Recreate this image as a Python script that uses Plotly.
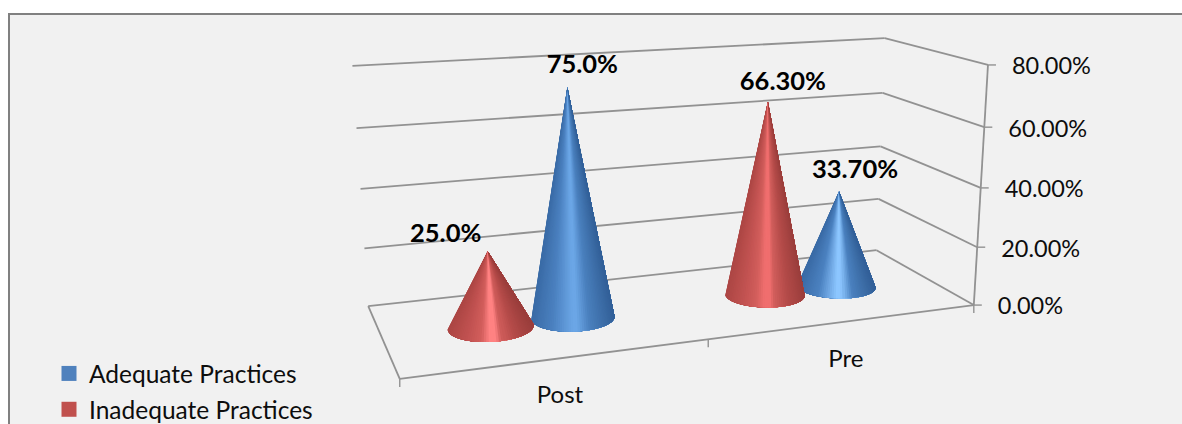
import numpy as np
import plotly.graph_objects as go

# Chart data
categories = ["Post", "Pre"]
adequate = [75.0, 33.7]
inadequate = [25.0, 66.3]
adequate_labels = ["75.0%", "33.70%"]
inadequate_labels = ["25.0%", "66.30%"]
series_names = ["Adequate Practices", "Inadequate Practices"]
tick_values = [0, 20, 40, 60, 80]
tick_labels = ["0.00%", "20.00%", "40.00%", "60.00%", "80.00%"]
axis_max = 80.0

WIDTH, HEIGHT = 1182, 424
FONT = "Lato"
TEXT = "#0d0d0d"
GRID = "#929292"

# Camera calibration of the chart box: (across, depth, height) -> screen position
front_edge = [
    ((1, 0, 0), (973, 305)), ((1, 0, .25), (978, 247)), ((1, 0, .5), (981, 188)),
    ((1, 0, .75), (984, 127)), ((1, 0, 1), (988, 65)),
]
box_anchors = [
    ((0, 0, 0), (400, 379)), ((0.5, 0, 0), (708, 340)),
    ((0, 1, 0), (368, 306)), ((1, 1, 0), (877, 250)),
    ((0, 1, .25), (364, 248)), ((0, 1, .5), (361, 189)), ((0, 1, .75), (357, 128)), ((0, 1, 1), (352, 66)),
    ((1, 1, .25), (879, 199)), ((1, 1, .5), (880, 147)), ((1, 1, .75), (883, 93)), ((1, 1, 1), (884, 38)),
] + front_edge * 3  # the value axis edge counts most


def fit_camera(anchors):
    """Direct linear transform, reweighted a few times to approach the screen-space error."""
    weights = np.ones(len(anchors))
    P = None
    for _ in range(8):
        rows = []
        for k, ((u, d, h), (x, y)) in enumerate(anchors):
            w = [u, d, h, 1]
            rows.append([weights[k] * c for c in w + [0, 0, 0, 0] + [-x * c for c in w]])
            rows.append([weights[k] * c for c in [0, 0, 0, 0] + w + [-y * c for c in w]])
        P = np.linalg.svd(np.array(rows, float))[2][-1].reshape(3, 4)
        weights = np.array([1 / abs(P[2] @ np.array([*a[0], 1.0])) for a in anchors])
        weights /= weights.mean()
    return P


CAMERA = fit_camera(box_anchors)


def project(u, d, h):
    u, d, h = np.broadcast_arrays(np.asarray(u, float), np.asarray(d, float), np.asarray(h, float))
    p = CAMERA @ np.stack([u, d, h, np.ones_like(u)])
    return p[0] / p[2], p[1] / p[2]


def hex_rgb(c):
    return np.array([int(c[i:i + 2], 16) for i in (1, 3, 5)], float)


def shade(stops, f):
    pos = [s[0] for s in stops]
    rgb = np.array([hex_rgb(s[1]) for s in stops])
    vals = [int(round(np.interp(f, pos, rgb[:, i]))) for i in range(3)]
    return "rgb({},{},{})".format(*vals)


def red_ramp(peak):
    return [(-1, "#ad4745"), (-.6, "#c05150"), (-.25, "#d25e5c"), (-.05, peak), (.1, peak),
            (.22, "#d05d5b"), (.55, "#b44b49"), (1, "#9a3e3c")]


def blue_ramp(peak):
    return [(-1, "#3a6ba6"), (-.5, "#4b81c0"), (-.02, peak), (.08, peak),
            (.38, "#4a80be"), (.8, "#3a6aa3"), (1, "#325f98")]


RU, RD = 0.0712, 0.2
STRIPS = 60


def add_cone(fig, cu, value, ramp):
    """One cone on the floor at mid depth, tip at the value, painted left to right in nested wedges."""
    tip_x, tip_y = project(cu, 0.5, value / axis_max)
    tip_x, tip_y = float(tip_x), float(tip_y)

    # Silhouette tangents: the base points seen at the widest angle from the tip
    phi = np.linspace(np.pi / 2, 5 * np.pi / 2, 721)
    bx, by = project(cu + RU * np.cos(phi), 0.5 + RD * np.sin(phi), 0)
    seen = np.arctan2(bx - tip_x, by - tip_y)
    left, right = phi[np.argmin(seen)], phi[np.argmax(seen)]
    half_width = (bx.max() - bx.min()) / 2
    middle = (bx.max() + bx.min()) / 2

    for start in np.linspace(left, right, STRIPS, endpoint=False):
        arc = np.linspace(start, right, 80)
        ax, ay = project(cu + RU * np.cos(arc), 0.5 + RD * np.sin(arc), 0)
        colour = shade(ramp, float((ax[0] - middle) / half_width))
        fig.add_trace(go.Scatter(
            x=[tip_x, *ax, tip_x], y=[tip_y, *ay, tip_y],
            mode="lines", fill="toself", fillcolor=colour,
            line=dict(color=colour, width=0),
            showlegend=False, hoverinfo="skip"))
    return tip_x, tip_y


def add_line(fig, a, b):
    x, y = project(*np.array([a, b]).T)
    fig.add_trace(go.Scatter(x=x, y=y, mode="lines", line=dict(color=GRID, width=1.8),
                             showlegend=False, hoverinfo="skip"))


fig = go.Figure()

# Panel behind the chart
fig.add_shape(type="rect", x0=9, y0=14, x1=WIDTH + 5, y1=HEIGHT + 5, layer="below",
              fillcolor="#f1f1f1", line=dict(color="#808080", width=2))

# Walls and floor of the 3-D box
for v in tick_values:
    h = v / axis_max
    add_line(fig, (0, 1, h), (1, 1, h))
    add_line(fig, (1, 1, h), (1, 0, h))
add_line(fig, (0, 1, 0), (0, 0, 0))
add_line(fig, (0, 0, 0), (1, 0, 0))
add_line(fig, (1, 0, 0), (1, 0, 1))

# Outward tick marks on the value axis and the category axis
tx, ty = project(1, 0, np.array(tick_values) / axis_max)
for x, y in zip(tx, ty):
    fig.add_trace(go.Scatter(x=[x, x + 8], y=[y, y], mode="lines", line=dict(color=GRID, width=1.4),
                             showlegend=False, hoverinfo="skip"))
for u in np.linspace(0, 1, len(categories) + 1):
    x, y = project(u, 0, 0)
    fig.add_trace(go.Scatter(x=[x, x], y=[y, y + 8], mode="lines", line=dict(color=GRID, width=1.4),
                             showlegend=False, hoverinfo="skip"))

# Cones: blue row first so the red ones overlap it
centres = [(i + 0.5) / len(categories) for i in range(len(categories))]
adequate_peaks = ["#6ba6e6", "#8cc6ff"]
inadequate_peaks = ["#ff8282", "#f06e6e"]
tips_a = [add_cone(fig, c + RU, v, blue_ramp(p)) for c, v, p in zip(centres, adequate, adequate_peaks)]
tips_i = [add_cone(fig, c - RU, v, red_ramp(p)) for c, v, p in zip(centres, inadequate, inadequate_peaks)]

# Data labels beside each tip
label_x, label_y, label_text = [], [], []
offsets_a = [(15, -21), (16, -20)]
offsets_i = [(-42, -16), (15, -18)]
for tips, offs, texts in ((tips_a, offsets_a, adequate_labels), (tips_i, offsets_i, inadequate_labels)):
    for (x, y), (dx, dy), t in zip(tips, offs, texts):
        label_x.append(x + dx)
        label_y.append(y + dy)
        label_text.append(t)
fig.add_trace(go.Scatter(x=label_x, y=label_y, text=label_text, mode="text", textposition="middle center",
                         textfont=dict(family=FONT, size=25.5, color="#000000", weight="bold"),
                         showlegend=False, hoverinfo="skip"))

# Value axis labels along the slanted right edge
fig.add_trace(go.Scatter(x=tx + 24, y=ty + 3.5, text=tick_labels, mode="text", textposition="middle right",
                         textfont=dict(family=FONT, size=23.5, color=TEXT),
                         showlegend=False, hoverinfo="skip"))

# Category labels below the front edge
cx, cy = project(np.array(centres), 0, 0)
fig.add_trace(go.Scatter(x=cx, y=cy + 39, text=categories, mode="text", textposition="middle center",
                         textfont=dict(family=FONT, size=24, color=TEXT),
                         showlegend=False, hoverinfo="skip"))

# Legend entries
for name, colour in zip(series_names, ["#4f81bd", "#c0504d"]):
    fig.add_trace(go.Scatter(x=[None], y=[None], mode="markers", name=name, legendgroup=name,
                             marker=dict(symbol="square", size=15, color=colour), hoverinfo="skip"))

fig.update_layout(
    width=WIDTH, height=HEIGHT, margin=dict(l=0, r=0, t=0, b=0, autoexpand=False),
    paper_bgcolor="#ffffff", plot_bgcolor="rgba(0,0,0,0)",
    xaxis=dict(range=[0, WIDTH], visible=False, fixedrange=True),
    yaxis=dict(range=[HEIGHT, 0], visible=False, fixedrange=True),
    showlegend=True,
    legend=dict(x=49 / WIDTH, y=(HEIGHT - 351) / HEIGHT, xanchor="left", yanchor="top",
                bgcolor="rgba(0,0,0,0)", font=dict(family=FONT, size=24.5, color=TEXT),
                tracegroupgap=1, itemclick=False, itemdoubleclick=False),
)

fig.write_html("out.html", config=dict(displayModeBar=False))
